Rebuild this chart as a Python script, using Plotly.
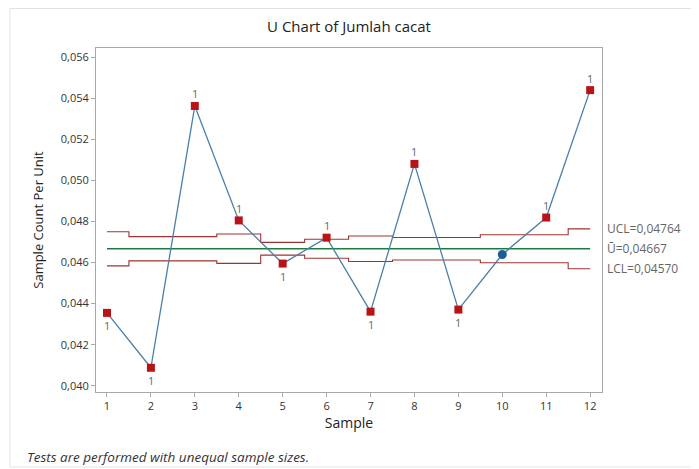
import plotly.graph_objects as go

samples = list(range(1, 13))
u_values = [0.04355, 0.04088, 0.05362, 0.04805, 0.04595, 0.04721,
            0.04361, 0.05080, 0.04371, 0.04639, 0.04819, 0.05439]
ucl = [0.04750, 0.04726, 0.04726, 0.04739, 0.04698, 0.04713,
       0.04729, 0.04722, 0.04722, 0.04735, 0.04735, 0.04764]
lcl = [0.04584, 0.04608, 0.04608, 0.04596, 0.04636, 0.04621,
       0.04605, 0.04612, 0.04612, 0.04599, 0.04599, 0.04570]
center = 0.04667
y_ticks = [0.040, 0.042, 0.044, 0.046, 0.048, 0.050, 0.052, 0.054, 0.056]

FONT = "Open Sans"
limit_color = "#9e3431"

fig = go.Figure()

# control limits (step lines)
fig.add_trace(go.Scatter(x=samples, y=ucl, mode="lines", line=dict(color=limit_color, width=1.1, shape="hvh"),
                         hoverinfo="skip", showlegend=False))
fig.add_trace(go.Scatter(x=samples, y=lcl, mode="lines", line=dict(color=limit_color, width=1.1, shape="hvh"),
                         hoverinfo="skip", showlegend=False))
fig.add_trace(go.Scatter(x=[samples[0], samples[-1]], y=[center, center], mode="lines",
                         line=dict(color="#1e7b3c", width=1.5), hoverinfo="skip", showlegend=False))

# data line
fig.add_trace(go.Scatter(x=samples, y=u_values, mode="lines",
                         line=dict(color="#4a7fab", width=1.3), showlegend=False))

above = [i for i in range(12) if u_values[i] > ucl[i]]
below = [i for i in range(12) if u_values[i] < lcl[i]]
inside = [i for i in range(12) if lcl[i] <= u_values[i] <= ucl[i]]
flagged = sorted(above + below)

fig.add_trace(go.Scatter(x=[samples[i] for i in flagged], y=[u_values[i] for i in flagged], mode="markers",
                         marker=dict(symbol="square", size=8, color="#b81418"), showlegend=False))
fig.add_trace(go.Scatter(x=[samples[i] for i in inside], y=[u_values[i] for i in inside], mode="markers",
                         marker=dict(symbol="circle", size=9, color="#1b5f96"), showlegend=False))

# test-failure labels "1"
for i in above:
    fig.add_annotation(x=samples[i], y=u_values[i], text="1", showarrow=False, yshift=12,
                       xanchor="center", yanchor="middle", font=dict(family=FONT, size=11, color="#666666"))
for i in below:
    fig.add_annotation(x=samples[i], y=u_values[i], text="1", showarrow=False, yshift=-13,
                       xanchor="center", yanchor="middle", font=dict(family=FONT, size=11, color="#666666"))

# right-side limit labels
for yv, txt in [(ucl[-1], "UCL=0,04764"), (center, "Ū=0,04667"), (lcl[-1], "LCL=0,04570")]:
    fig.add_annotation(x=1.0, xref="paper", y=yv, yref="y", text=txt, showarrow=False,
                       xanchor="left", xshift=3, font=dict(family=FONT, size=12, color="#666666"))

# footnote
fig.add_annotation(x=-0.140, xref="paper", y=-0.189, yref="paper", xanchor="left", yanchor="middle",
                   text="<i>Tests are performed with unequal sample sizes.</i>", showarrow=False,
                   font=dict(family=FONT, size=13.5, color="#333333"))

# outer faint frame
fig.add_shape(type="rect", xref="paper", yref="paper", x0=-0.17, x1=1.4, y0=-0.218, y1=1.1148,
              line=dict(color="#e3e3e3", width=1))

# page body has an 8px margin, so the figure is 8px smaller and margins shifted
fig.update_layout(
    width=691, height=461,
    margin=dict(l=88, r=97, t=40, b=77),
    paper_bgcolor="white", plot_bgcolor="white",
    separators=", ",
    title=dict(text="U Chart of Jumlah cacat", x=0.5, xref="paper", xanchor="center", y=0.959, yanchor="middle",
               font=dict(family=FONT, size=15, color="#222222")),
    font=dict(family=FONT, color="#333333"),
)
fig.update_xaxes(range=[0.75, 12.27], tickmode="array", tickvals=samples, ticktext=[str(s) for s in samples],
                 showgrid=False, zeroline=False, showline=True, mirror=True, linecolor="#a8a8a8", linewidth=1,
                 ticks="outside", ticklen=4, tickcolor="#a8a8a8", tickfont=dict(size=11, color="#333333"),
                 title=dict(text="Sample", font=dict(size=14, color="#222222"), standoff=5))
fig.update_yaxes(range=[0.0397, 0.05644], tickmode="array", tickvals=y_ticks, tickformat=".3f",
                 showgrid=False, zeroline=False, showline=True, mirror=True, linecolor="#a8a8a8", linewidth=1,
                 ticks="outside", ticklen=4, tickcolor="#a8a8a8", tickfont=dict(size=11, color="#333333"),
                 title=dict(text="Sample Count Per Unit", font=dict(size=13, color="#222222"), standoff=14))

fig.write_html("out.html")
